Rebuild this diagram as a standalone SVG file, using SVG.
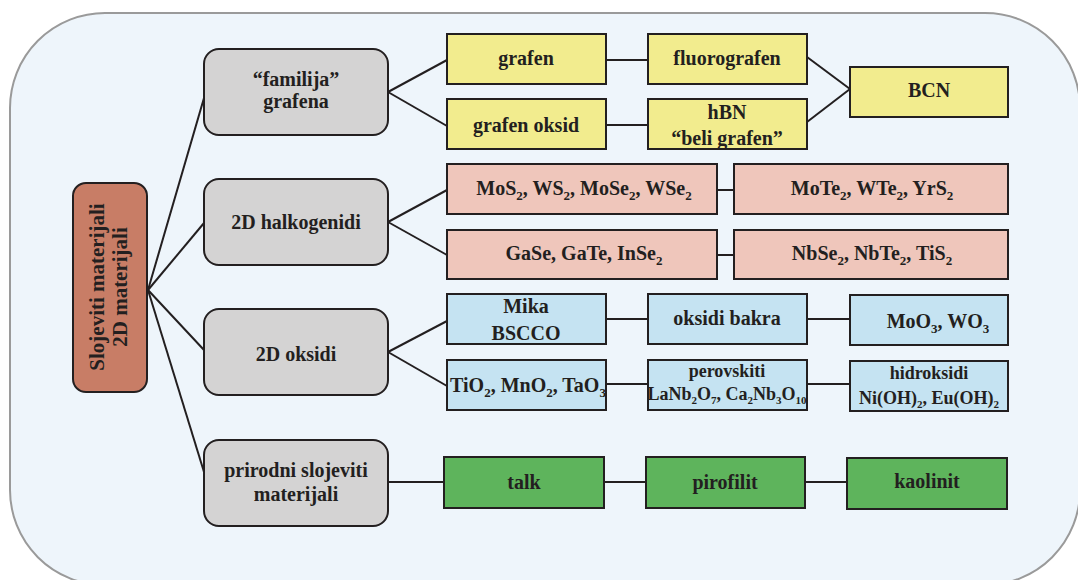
<svg xmlns="http://www.w3.org/2000/svg" width="1078" height="580" viewBox="0 0 1078 580">
<style>
text{font-family:'Liberation Serif','DejaVu Serif',serif;font-weight:700;fill:#231f20;text-anchor:middle}
.t{font-size:20px}
.s{font-size:18px}
.sub{font-size:13px}
.sub2{font-size:11px}
.gray{fill:#d4d3d3;stroke:#231f20;stroke-width:2}
.yel{fill:#f2ec8e;stroke:#231f20;stroke-width:2}
.pink{fill:#efc6bb;stroke:#231f20;stroke-width:2}
.blue{fill:#c5e3f2;stroke:#231f20;stroke-width:2}
.green{fill:#5eb45c;stroke:#231f20;stroke-width:2}
.c line{stroke:#231f20;stroke-width:2}
</style>
<rect x="10" y="13" width="1070" height="572" rx="95" fill="#eef5fb" stroke="#9a9a9a" stroke-width="2"/>
<g class="c" id="connectors">
<line x1="148" y1="290" x2="204" y2="98"/>
<line x1="148" y1="290" x2="204" y2="223"/>
<line x1="148" y1="290" x2="204" y2="350"/>
<line x1="148" y1="290" x2="204" y2="472"/>
<line x1="388" y1="92" x2="447" y2="60"/>
<line x1="388" y1="92" x2="447" y2="126"/>
<line x1="606" y1="60" x2="648" y2="60"/>
<line x1="606" y1="125" x2="648" y2="125"/>
<line x1="807" y1="57" x2="850" y2="89"/>
<line x1="807" y1="122" x2="850" y2="89"/>
<line x1="388" y1="222" x2="447" y2="190"/>
<line x1="388" y1="222" x2="447" y2="255"/>
<line x1="717" y1="190" x2="734" y2="190"/>
<line x1="717" y1="255" x2="734" y2="255"/>
<line x1="388" y1="352" x2="447" y2="321"/>
<line x1="388" y1="352" x2="447" y2="386"/>
<line x1="606" y1="319" x2="648" y2="319"/>
<line x1="807" y1="319" x2="850" y2="319"/>
<line x1="606" y1="384" x2="648" y2="384"/>
<line x1="807" y1="384" x2="850" y2="384"/>
<line x1="388" y1="482" x2="444" y2="482"/>
<line x1="604" y1="482" x2="646" y2="482"/>
<line x1="805" y1="482" x2="847" y2="482"/>
</g>
<g id="root">
<rect x="73" y="183" width="74" height="209" rx="13" fill="#c87d66" stroke="#231f20" stroke-width="2"/>
<g transform="rotate(-90 110 287)">
<text x="110" y="281" style="font-size:21px">Slojeviti materijali</text>
<text x="110" y="304" style="font-size:21px">2D materijali</text>
</g>
</g>
<g id="familija">
<rect class="gray" x="204" y="49" width="184" height="86" rx="15"/>
<text class="t" x="296" y="86">“familija”</text>
<text class="t" x="296" y="108">grafena</text>
</g>
<g id="halkogenidi">
<rect class="gray" x="204" y="179" width="184" height="86" rx="15"/>
<text class="t" x="296" y="229">2D halkogenidi</text>
</g>
<g id="oksidi">
<rect class="gray" x="204" y="309" width="184" height="86" rx="15"/>
<text class="t" x="296" y="361">2D oksidi</text>
</g>
<g id="prirodni">
<rect class="gray" x="204" y="440" width="184" height="86" rx="15"/>
<text class="t" x="296" y="477">prirodni slojeviti</text>
<text class="t" x="296" y="501">materijali</text>
</g>
<g id="grafen">
<rect class="yel" x="447" y="34" width="159" height="50"/>
<text class="t" x="526" y="65">grafen</text>
</g>
<g id="fluorografen">
<rect class="yel" x="648" y="34" width="159" height="50"/>
<text class="t" x="727" y="65">fluorografen</text>
</g>
<g id="grafenoksid">
<rect class="yel" x="447" y="99" width="159" height="50"/>
<text class="t" x="526" y="132">grafen oksid</text>
</g>
<g id="hbn">
<rect class="yel" x="648" y="99" width="159" height="50"/>
<text class="t" x="727" y="119">hBN</text>
<text class="t" x="727" y="145">“beli grafen”</text>
</g>
<g id="bcn">
<rect class="yel" x="850" y="67" width="158" height="50"/>
<text class="t" x="929" y="97">BCN</text>
</g>
<g id="mos2">
<rect class="pink" x="447" y="164" width="270" height="50"/>
<text class="t" x="584" y="195">MoS<tspan class="sub" dy="5">2</tspan><tspan dy="-5">, WS</tspan><tspan class="sub" dy="5">2</tspan><tspan dy="-5">, MoSe</tspan><tspan class="sub" dy="5">2</tspan><tspan dy="-5">, WSe</tspan><tspan class="sub" dy="5">2</tspan></text>
</g>
<g id="mote2">
<rect class="pink" x="734" y="164" width="274" height="50"/>
<text class="t" x="872" y="195">MoTe<tspan class="sub" dy="5">2</tspan><tspan dy="-5">, WTe</tspan><tspan class="sub" dy="5">2</tspan><tspan dy="-5">, YrS</tspan><tspan class="sub" dy="5">2</tspan></text>
</g>
<g id="gase">
<rect class="pink" x="447" y="230" width="270" height="49"/>
<text class="t" x="584" y="260">GaSe, GaTe, InSe<tspan class="sub" dy="5">2</tspan></text>
</g>
<g id="nbse2">
<rect class="pink" x="734" y="230" width="274" height="49"/>
<text class="t" x="872" y="260">NbSe<tspan class="sub" dy="5">2</tspan><tspan dy="-5">, NbTe</tspan><tspan class="sub" dy="5">2</tspan><tspan dy="-5">, TiS</tspan><tspan class="sub" dy="5">2</tspan></text>
</g>
<g id="mika">
<rect class="blue" x="447" y="294" width="159" height="50"/>
<text class="t" x="526" y="313">Mika</text>
<text class="t" x="526" y="340">BSCCO</text>
</g>
<g id="bakra">
<rect class="blue" x="648" y="294" width="159" height="50"/>
<text class="t" x="727" y="325">oksidi bakra</text>
</g>
<g id="moo3">
<rect class="blue" x="850" y="295" width="158" height="50"/>
<text class="t" x="938" y="328">MoO<tspan class="sub" dy="5">3</tspan><tspan dy="-5">, WO</tspan><tspan class="sub" dy="5">3</tspan></text>
</g>
<g id="tio2">
<rect class="blue" x="447" y="360" width="159" height="50"/>
<text class="t" x="528" y="392">TiO<tspan class="sub" dy="5">2</tspan><tspan dy="-5">, MnO</tspan><tspan class="sub" dy="5">2</tspan><tspan dy="-5">, TaO</tspan><tspan class="sub" dy="5">3</tspan></text>
</g>
<g id="perovskiti">
<rect class="blue" x="648" y="360" width="159" height="50"/>
<text class="s" x="727" y="377">perovskiti</text>
<text class="s" x="727" y="400">LaNb<tspan class="sub2" dy="4">2</tspan><tspan dy="-4">O</tspan><tspan class="sub2" dy="4">7</tspan><tspan dy="-4">, Ca</tspan><tspan class="sub2" dy="4">2</tspan><tspan dy="-4">Nb</tspan><tspan class="sub2" dy="4">3</tspan><tspan dy="-4">O</tspan><tspan class="sub2" dy="4">10</tspan></text>
</g>
<g id="hidroksidi">
<rect class="blue" x="850" y="361" width="158" height="50"/>
<text class="s" x="929" y="379">hidroksidi</text>
<text class="s" x="929" y="404">Ni(OH)<tspan class="sub2" dy="4">2</tspan><tspan dy="-4">, Eu(OH)</tspan><tspan class="sub2" dy="4">2</tspan></text>
</g>
<g id="talk">
<rect class="green" x="444" y="457" width="160" height="51"/>
<text class="t" x="524" y="489">talk</text>
</g>
<g id="pirofilit">
<rect class="green" x="646" y="457" width="159" height="51"/>
<text class="t" x="725" y="489">pirofilit</text>
</g>
<g id="kaolinit">
<rect class="green" x="847" y="458" width="160" height="51"/>
<text class="t" x="927" y="488">kaolinit</text>
</g>
</svg>
